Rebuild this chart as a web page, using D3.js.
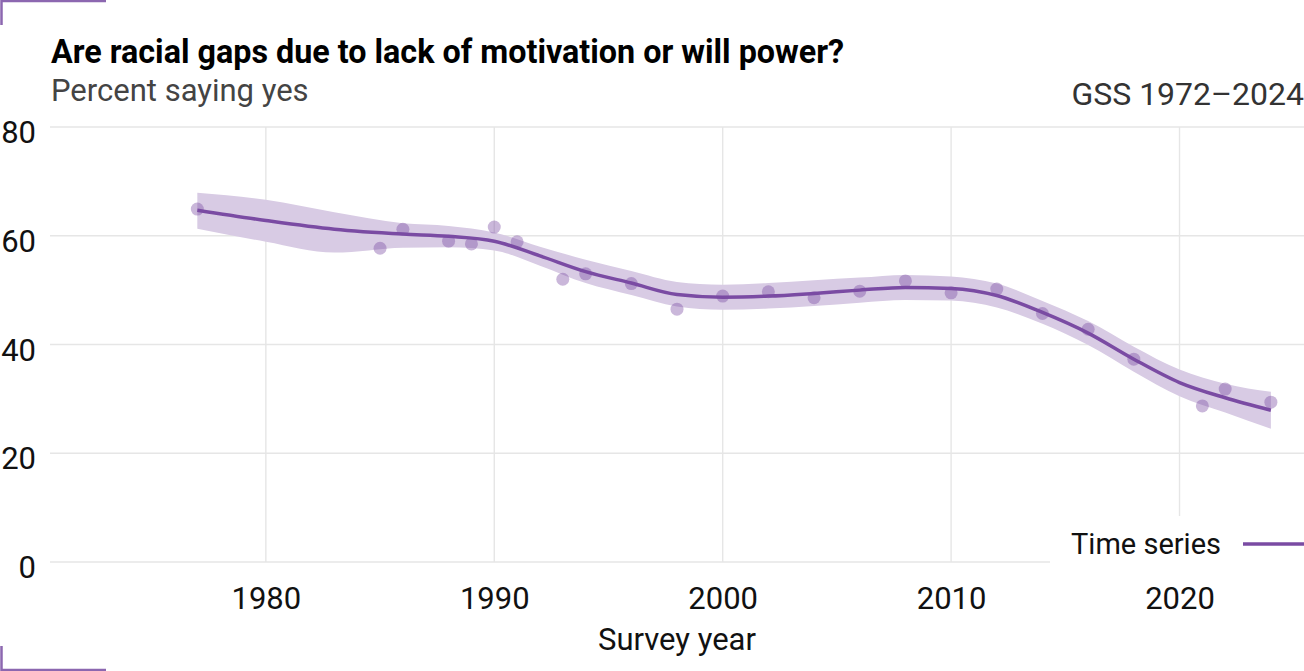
<!DOCTYPE html>
<html>
<head>
<meta charset="utf-8">
<script src="https://cdn.jsdelivr.net/npm/d3@7"></script>
<style>
  body { margin: 0; background: #fff; }
  svg { display: block; font-family: Roboto, "Noto Sans", sans-serif; }
</style>
</head>
<body>
<script>

// DATI: punti osservati (anno, percentuale)
var years = [1977, 1985, 1986, 1988, 1989, 1990, 1991, 1993, 1994, 1996, 1998, 2000,
             2002, 2004, 2006, 2008, 2010, 2012, 2014, 2016, 2018, 2021, 2022, 2024];
var values = [64.9, 57.7, 61.2, 59.0, 58.5, 61.6, 58.9, 52.0, 53.0, 51.2, 46.5, 48.9,
              49.7, 48.6, 49.8, 51.7, 49.5, 50.2, 45.7, 42.8, 37.3, 28.7, 31.8, 29.4];

// DATI: curva smussata e banda di confidenza
var fitYears = [1977, 1980, 1983, 1986, 1988, 1990, 1992, 1994, 1996, 1998, 2000, 2002,
                2004, 2006, 2008, 2010, 2012, 2014, 2016, 2018, 2020, 2022, 2024];
var fitValues = [64.7, 62.8, 61.2, 60.3, 59.9, 59.0, 56.3, 53.4, 51.3, 49.2, 48.7, 48.9,
                 49.4, 50.0, 50.5, 50.3, 49.0, 45.9, 42.1, 37.3, 33.0, 30.2, 27.9];
var fitUpper = [67.9, 66.6, 64.3, 62.3, 61.8, 60.6, 58.0, 55.6, 53.5, 51.5, 51.0, 51.3,
                51.8, 52.3, 52.8, 52.5, 51.2, 48.0, 44.3, 39.6, 35.4, 32.8, 31.3];
var fitLower = [61.3, 58.9, 56.9, 57.8, 57.9, 57.3, 54.5, 51.3, 49.1, 47.0, 46.4, 46.6,
                47.1, 47.7, 48.2, 48.1, 46.8, 43.8, 39.9, 35.0, 30.5, 27.5, 24.5];

// ASSI
var xTicks = [1980, 1990, 2000, 2010, 2020];
var yTicks = [0, 20, 40, 60, 80];

var width = 1304, height = 671;
var purple = "#7a4ba3";
var fs = 31;

var svg = d3.select("body")
    .append("svg")
    .attr("width", width)
    .attr("height", height);

var x = d3.scaleLinear().domain([1970.55, 2025.45]).range([50, 1304]);
var y = d3.scaleLinear().domain([0, 80]).range([562, 127]);

// GRIGLIA

svg.append("g")
    .selectAll("line")
    .data(yTicks)
    .join("line")
    .attr("x1", 50).attr("x2", 1304)
    .attr("y1", d => y(d)).attr("y2", d => y(d))
    .attr("stroke", "#e6e6e6")
    .attr("stroke-width", 1.4);

svg.append("g")
    .selectAll("line")
    .data(xTicks)
    .join("line")
    .attr("x1", d => x(d)).attr("x2", d => x(d))
    .attr("y1", 127).attr("y2", 562)
    .attr("stroke", "#e6e6e6")
    .attr("stroke-width", 1.4);

// ETICHETTE ASSI

var yAxis = svg.append("g")
    .attr("transform", "translate(36,0)")
    .call(d3.axisLeft(y).tickValues(yTicks).tickSize(0).tickPadding(0));
yAxis.select(".domain").remove();
yAxis.selectAll("text")
    .attr("dy", null)
    .attr("y", 15.5)
    .attr("font-family", "Roboto")
    .attr("font-size", fs)
    .attr("fill", "#111");

var xAxis = svg.append("g")
    .attr("transform", "translate(0,609)")
    .call(d3.axisBottom(x).tickValues(xTicks).tickFormat(d3.format("d")).tickSize(0).tickPadding(0));
xAxis.select(".domain").remove();
xAxis.selectAll("text")
    .attr("dy", null)
    .attr("y", 0)
    .attr("font-family", "Roboto")
    .attr("font-size", fs)
    .attr("fill", "#111");

svg.append("text")
    .attr("x", 677)
    .attr("y", 650)
    .attr("text-anchor", "middle")
    .attr("font-size", fs)
    .attr("fill", "#111")
    .text("Survey year");

// BANDA DI CONFIDENZA

var band = fitYears.map((yr, i) => ({ yr: yr, lo: fitLower[i], hi: fitUpper[i], v: fitValues[i] }));

svg.append("path")
    .datum(band)
    .attr("d", d3.area()
        .x(d => x(d.yr))
        .y0(d => y(d.lo))
        .y1(d => y(d.hi))
        .curve(d3.curveMonotoneX))
    .attr("fill", "#d8cbe4");

// PUNTI

svg.append("g")
    .selectAll("circle")
    .data(years)
    .join("circle")
    .attr("cx", d => x(d))
    .attr("cy", (d, i) => y(values[i]))
    .attr("r", 6.5)
    .attr("fill", purple)
    .attr("opacity", 0.4);

// LINEA SMUSSATA

svg.append("path")
    .datum(band)
    .attr("d", d3.line()
        .x(d => x(d.yr))
        .y(d => y(d.v))
        .curve(d3.curveMonotoneX))
    .attr("fill", "none")
    .attr("stroke", purple)
    .attr("stroke-width", 3.5);

// LEGENDA

svg.append("rect")
    .attr("x", 1050).attr("y", 516)
    .attr("width", 254).attr("height", 60)
    .attr("fill", "#fff");

svg.append("text")
    .attr("x", 1221)
    .attr("y", 554)
    .attr("text-anchor", "end")
    .attr("font-size", 29)
    .attr("fill", "#111")
    .text("Time series");

svg.append("line")
    .attr("x1", 1243).attr("x2", 1304)
    .attr("y1", 544).attr("y2", 544)
    .attr("stroke", purple)
    .attr("stroke-width", 3.5);

// TITOLI

svg.append("text")
    .attr("x", 51)
    .attr("y", 63)
    .attr("font-size", 32.3)
    .attr("font-weight", "bold")
    .attr("fill", "#000")
    .text("Are racial gaps due to lack of motivation or will power?");

svg.append("text")
    .attr("x", 51)
    .attr("y", 101)
    .attr("font-size", fs)
    .attr("fill", "#444")
    .text("Percent saying yes");

svg.append("text")
    .attr("x", 1304)
    .attr("y", 105)
    .attr("text-anchor", "end")
    .attr("font-size", 32)
    .attr("fill", "#333")
    .text("GSS 1972\u20132024");

// ANGOLI DECORATIVI

svg.append("path")
    .attr("d", "M1.5,25 V1 H106")
    .attr("fill", "none")
    .attr("stroke", "#8c67b0")
    .attr("stroke-width", 2.5);

svg.append("path")
    .attr("d", "M1.5,646 V670 H106")
    .attr("fill", "none")
    .attr("stroke", "#8c67b0")
    .attr("stroke-width", 2.5);

</script>
</body>
</html>
